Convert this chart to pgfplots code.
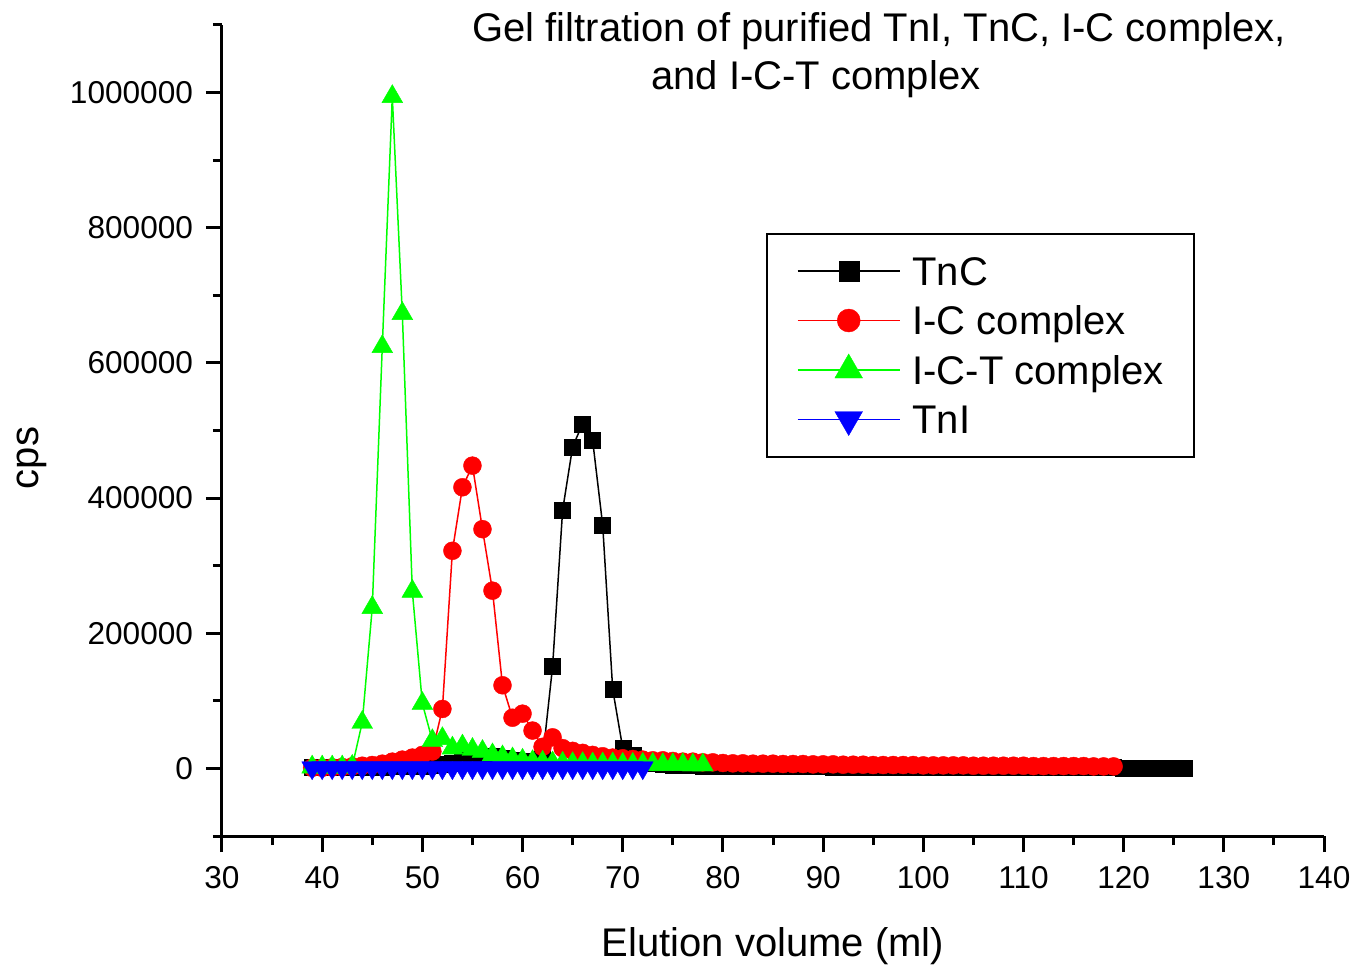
\documentclass[border=0pt]{standalone}
\usepackage{fontspec}
\setmainfont{Liberation Sans}
\usepackage{pgfplots}
\pgfplotsset{compat=1.18}
\definecolor{cgreen}{RGB}{0,255,0}
\definecolor{cred}{RGB}{255,0,0}
\definecolor{cblue}{RGB}{0,0,255}

\pgfplotstableread{
x y
39 2000
40 2000
41 2000
42 2000
43 2000
44 2000
45 2500
46 2500
47 3000
48 3000
49 3500
50 4000
51 5000
52 6000
53 8000
54 12000
55 14000
56 17000
57 18000
58 15000
59 12000
60 10000
61 9000
62 14000
63 151000
64 382000
65 476000
66 510000
67 485000
68 360000
69 117000
70 30000
71 19000
72 10000
73 7000
74 6000
75 5000
76 4500
77 4500
78 4000
79 4000
80 4000
81 3500
82 3500
83 3500
84 3500
85 3000
86 3000
87 3000
88 3000
89 3000
90 3000
91 2500
92 2500
93 2500
94 2500
95 2500
96 2500
97 2500
98 2500
99 2500
100 2000
101 2000
102 2000
103 2000
104 2000
105 2000
106 2000
107 2000
108 2000
109 2000
110 1500
111 1500
112 1500
113 1500
114 1500
115 1500
116 1500
117 1500
118 1500
119 1500
120 1000
121 1000
122 1000
123 1000
124 1000
125 1000
126 1000
}\tnc

\pgfplotstableread{
x y
39 1000
40 1000
41 1500
42 2000
43 3000
44 4000
45 5000
46 7000
47 10000
48 13000
49 16000
50 20000
51 25000
52 88000
53 322000
54 416000
55 448000
56 354000
57 263000
58 123000
59 75000
60 81000
61 56000
62 32000
63 46000
64 30000
65 26000
66 23000
67 20000
68 18000
69 16000
70 15000
71 14000
72 13000
73 12000
74 12000
75 11000
76 10000
77 10000
78 9000
79 9000
80 8000
81 7500
82 7500
83 7000
84 7000
85 7000
86 6500
87 6500
88 6500
89 6000
90 6000
91 6000
92 5500
93 5500
94 5500
95 5000
96 5000
97 5000
98 5000
99 5000
100 4500
101 4500
102 4500
103 4500
104 4500
105 4000
106 4000
107 4000
108 4000
109 4000
110 4000
111 3500
112 3500
113 3500
114 3500
115 3500
116 3500
117 3000
118 3000
119 3000
}\icc

\pgfplotstableread{
x y
39 2000
40 2000
41 2000
42 2000
43 3000
44 68000
45 238000
46 624000
47 994000
48 673000
49 262000
50 96000
51 41000
52 44000
53 30000
54 33000
55 28000
56 25000
57 20000
58 17000
59 14000
60 12000
61 10000
62 9000
63 8000
64 7500
65 7000
66 7000
67 6500
68 6500
69 6500
70 6000
71 6000
72 6000
73 6000
74 5500
75 5500
76 5500
77 5000
78 5000
}\ict

\pgfplotstableread{
x y
39 1000
40 1000
41 1000
42 1000
43 1000
44 1000
45 1000
46 1000
47 1000
48 1000
49 1000
50 1000
51 1000
52 1000
53 1000
54 1000
55 1000
56 1000
57 1000
58 1000
59 1000
60 1000
61 1000
62 1000
63 1000
64 1000
65 1000
66 1000
67 1000
68 1000
69 1000
70 1000
71 1000
72 1000
}\tni

\begin{document}
\begin{tikzpicture}
\begin{axis}[
  scale only axis, width=551pt, height=405.5pt,
  xmin=30, xmax=140, ymin=-100000, ymax=1100000,
  clip=false,
  axis x line*=bottom, axis y line*=left,
  axis line style={line width=1.5pt, -},
  every outer x axis line/.append style={-},
  every outer y axis line/.append style={-},
  xtick={30,40,...,140}, minor xtick={35,45,...,135},
  ytick={0,200000,...,1000000}, minor ytick={-100000,100000,...,1100000},
  tick align=outside, major tick length=8pt, minor tick length=4.5pt,
  every tick/.style={black, line width=1.5pt},
  scaled y ticks=false,
  /pgf/number format/.cd, fixed, 1000 sep={}, assume math mode=true, /pgfplots/.cd,
  tick label style={font=\fontsize{15.8}{18}\selectfont, inner sep=0pt},
  yticklabel style={anchor=east, xshift=-6.3pt},
  xticklabel style={anchor=north, yshift=-7pt},
  xlabel={Elution volume (ml)},
  ylabel={cps},
  label style={font=\fontsize{20}{24}\selectfont},
  xlabel style={at={(rel axis cs:0.5,-0.1480)}, anchor=base},
  ylabel style={at={(rel axis cs:-0.1724,0.4661)}, anchor=center},
  legend cell align=left,
  legend image code/.code={\draw[mark repeat=2,mark phase=2,#1] plot coordinates {(0pt,0pt) (25.5pt,0pt) (51pt,0pt)};},
  legend style={at={(rel axis cs:0.4936,0.7435)}, anchor=north west, draw=black, line width=1pt,
    inner xsep=15pt, inner ysep=8pt, font=\fontsize{20}{24}\selectfont, row sep=3.75pt, column sep=6pt,
    nodes={inner sep=0pt, text height=17.5pt, text depth=3.5pt}},
]
\path (rel axis cs:-0.20145,-0.15783) rectangle (rel axis cs:1.02995,1.03083);

\addplot[forget plot, black, line width=0.75pt, mark=square*, mark size=4pt, mark options={solid, fill=black, line width=0.2pt}] table[x=x,y=y] {\tnc};
\addplot[forget plot, cred, line width=0.75pt, mark=*, mark size=4.5pt, mark options={solid, fill=cred, line width=0.2pt}] table[x=x,y=y] {\icc};
\addplot[forget plot, cgreen, line width=0.75pt, mark=triangle*, mark size=6pt, mark options={solid, fill=cgreen, line width=0.2pt}] table[x=x,y=y] {\ict};
\addplot[forget plot, cblue, line width=0.75pt, mark=triangle*, mark size=6pt, mark options={solid, fill=cblue, line width=0.2pt, rotate=180}] table[x=x,y=y] {\tni};

\addlegendimage{black, line width=0.75pt, mark=square*, mark size=5pt, mark options={solid, fill=black, line width=0.2pt}}
\addlegendentry{TnC}
\addlegendimage{cred, line width=0.75pt, mark=*, mark size=5.75pt, mark options={solid, fill=cred, line width=0.2pt}}
\addlegendentry{I-C complex}
\addlegendimage{cgreen, line width=0.75pt, mark=triangle*, mark size=8pt, mark options={solid, fill=cgreen, line width=0.2pt}}
\addlegendentry{I-C-T complex}
\addlegendimage{cblue, line width=0.75pt, mark=triangle*, mark size=8pt, mark options={solid, fill=cblue, line width=0.2pt, rotate=180}}
\addlegendentry{TnI}

\node[anchor=base west, font=\fontsize{20}{24}\selectfont, inner sep=0pt] at (rel axis cs:0.2269,0.9800) {Gel filtration of purified TnI, TnC, I-C complex,};
\node[anchor=base west, font=\fontsize{20}{24}\selectfont, inner sep=0pt] at (rel axis cs:0.3893,0.9200) {and I-C-T complex};
\end{axis}
\end{tikzpicture}
\end{document}
